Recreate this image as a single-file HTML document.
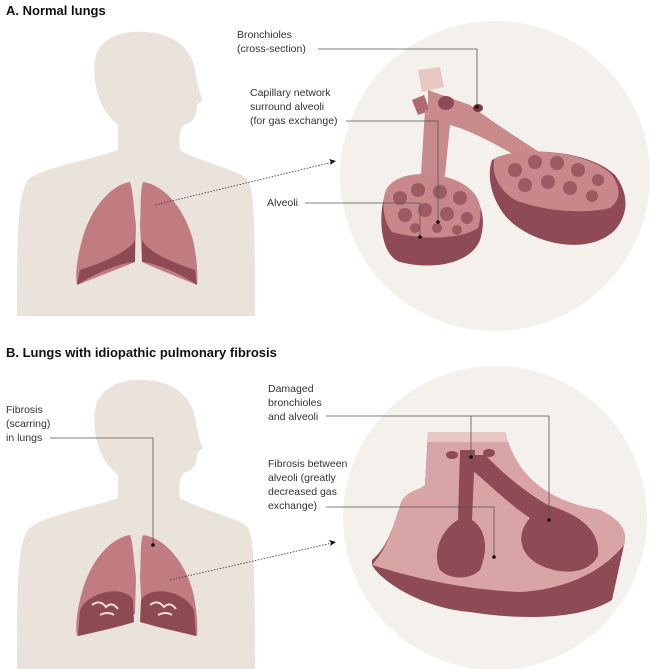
<!DOCTYPE html>
<html><head><style>
html,body{margin:0;padding:0;background:#fff;}
svg{display:block;}
text{font-family:"Liberation Sans",sans-serif;font-size:10.5px;fill:#333;}
.t{font-weight:bold;font-size:13px;fill:#111;}
</style></head><body>
<svg width="660" height="669" viewBox="0 0 660 669" xmlns="http://www.w3.org/2000/svg">
<!-- Section A -->
<text class="t" x="6" y="15">A. Normal lungs</text>
<circle cx="495" cy="176" r="155" fill="#f4f1ed"/>
<path d="M118,125 C98,110 92,80 95,60 C98,40 118,30 145,32 C172,33 192,48 195,70 C197,82 200,95 203,100 L197,105 C197,115 194,122 186,124 C180,126 178,140 180,150 C200,162 240,170 248,180 C254,190 255,220 255,316 L17,316 C17,230 18,195 28,180 C40,168 90,160 118,150 Z" fill="#e9e3db"/>
<path d="M130,182 C110,185 90,210 82,240 C77,258 75,275 77,285 C95,278 120,268 135,262 L136,225 C134,210 133,190 130,182 Z" fill="#c07c80"/>
<path d="M143,182 C165,185 185,210 193,240 C197,258 198,275 197,285 C180,278 155,268 142,262 L140,225 C141,210 140,190 143,182 Z" fill="#c07c80"/>
<path d="M77,285 C100,270 125,262 135,262 L135,240 C130,250 110,260 80,270 Z" fill="#8e4a52"/>
<path d="M197,285 C175,270 150,262 142,262 L142,240 C147,250 165,260 195,270 Z" fill="#8e4a52"/>
<line x1="155" y1="205" x2="333" y2="162" stroke="#333" stroke-width="0.8" stroke-dasharray="1.5,1.5"/>
<path d="M336,161 l-7,-2 l2,3 l-1,3 z" fill="#111"/>
<g>
<path d="M418,70 l22,-3 l4,20 l-22,5 z" fill="#e8c7c3"/>
<path d="M412,100 l12,-5 l6,16 l-12,4 z" fill="#b06a70"/>
<path d="M428,90 L470,105 C490,120 520,140 560,165 L545,175 C510,150 470,130 450,125 L445,175 C440,185 430,190 428,195 Z" fill="#c98a8c"/>
<path d="M425,110 L440,110 L438,190 L420,190 Z" fill="#c98a8c"/>
<path d="M385,195 C390,175 425,170 450,182 C480,190 488,215 480,240 C470,265 430,270 400,262 C380,255 378,215 385,195 Z" fill="#8e4a55"/>
<path d="M386,190 C395,172 430,170 455,180 C478,190 485,205 478,228 C460,240 420,240 392,232 C382,220 382,200 386,190 Z" fill="#c8888b"/>
<path d="M492,160 C520,145 590,150 615,175 C630,195 628,215 615,230 C590,255 540,245 515,225 C495,210 485,180 492,160 Z" fill="#8e4a55"/>
<path d="M495,158 C525,145 590,152 612,175 C622,190 620,200 610,208 C580,215 540,210 515,200 C498,190 490,170 495,158 Z" fill="#c8888b"/>
<g fill="#9e5a63">
<circle cx="400" cy="198" r="7"/><circle cx="418" cy="190" r="7"/><circle cx="440" cy="192" r="7"/><circle cx="460" cy="198" r="7"/>
<circle cx="405" cy="215" r="7"/><circle cx="425" cy="210" r="7"/><circle cx="447" cy="214" r="7"/><circle cx="467" cy="218" r="6"/>
<circle cx="415" cy="228" r="5"/><circle cx="437" cy="228" r="5"/><circle cx="457" cy="230" r="5"/>
<circle cx="515" cy="170" r="7"/><circle cx="535" cy="162" r="7"/><circle cx="557" cy="163" r="7"/><circle cx="578" cy="170" r="7"/><circle cx="598" cy="180" r="6"/>
<circle cx="525" cy="185" r="7"/><circle cx="548" cy="182" r="7"/><circle cx="570" cy="188" r="7"/><circle cx="592" cy="196" r="6"/>
</g>
<ellipse cx="446" cy="103" rx="8" ry="7" fill="#8e4a55"/>
<ellipse cx="478" cy="108" rx="5" ry="4" fill="#7a3a44"/>
</g>
<text x="237" y="38">Bronchioles</text>
<text x="237" y="52">(cross-section)</text>
<path d="M318,49 H477 V107" fill="none" stroke="#555" stroke-width="0.8"/>
<circle cx="477" cy="107" r="1.8" fill="#111"/>
<text x="250" y="96">Capillary network</text>
<text x="250" y="110">surround alveoli</text>
<text x="250" y="124">(for gas exchange)</text>
<path d="M346,121 H438 V222" fill="none" stroke="#555" stroke-width="0.8"/>
<circle cx="438" cy="222" r="1.8" fill="#111"/>
<text x="267" y="206">Alveoli</text>
<path d="M305,203 H420 V237" fill="none" stroke="#555" stroke-width="0.8"/>
<circle cx="420" cy="237" r="1.8" fill="#111"/>

<!-- Section B -->
<text class="t" x="6" y="357">B. Lungs with idiopathic pulmonary fibrosis</text>
<circle cx="495" cy="518" r="152" fill="#f4f1ed"/>
<path d="M118,475 C98,460 92,430 95,410 C98,390 118,378 145,380 C172,381 192,396 195,418 C197,430 200,443 203,448 L197,453 C197,463 194,470 186,472 C180,474 178,488 180,498 C200,510 240,518 248,528 C254,538 255,570 255,669 L17,669 C17,580 18,545 28,530 C40,516 90,508 118,498 Z" fill="#e9e3db"/>
<path d="M130,535 C110,538 90,562 82,592 C77,610 75,627 77,636 C95,630 120,620 135,614 L136,577 C134,562 133,542 130,535 Z" fill="#c07c80"/>
<path d="M143,535 C165,538 185,562 193,592 C197,610 198,627 197,636 C180,630 155,620 142,614 L140,577 C141,562 140,542 143,535 Z" fill="#c07c80"/>
<path d="M80,610 C90,590 125,585 133,600 L134,622 C115,628 95,632 78,636 Z" fill="#8e4a52"/>
<path d="M194,610 C184,590 150,585 141,600 L140,622 C160,628 180,632 196,636 Z" fill="#8e4a52"/>
<path d="M92,605 q8,-6 14,2 q6,-6 12,2 M100,615 q8,-4 14,0 M150,605 q8,-6 14,2 q6,-6 12,2 M158,615 q8,-4 14,0" stroke="#f1dcd8" stroke-width="2" fill="none"/>
<line x1="170" y1="580" x2="332" y2="543" stroke="#333" stroke-width="0.8" stroke-dasharray="1.5,1.5"/>
<path d="M336,542 l-7,-2 l2,3 l-1,3 z" fill="#111"/>
<path d="M428,432 L505,432 C515,470 540,500 600,510 C620,520 628,530 624,545 L612,600 C580,620 520,620 470,612 C420,608 380,580 372,565 L372,560 C390,545 395,520 402,500 C410,490 420,490 425,485 Z" fill="#8e4a55"/>
<path d="M428,432 L505,432 C515,470 540,500 600,510 C620,520 628,530 624,545 C600,575 560,590 520,592 C470,590 420,580 372,565 C390,545 395,520 402,500 C410,490 420,490 425,485 Z" fill="#d9a4a6"/>
<path d="M428,432 L505,432 L508,442 L427,442 Z" fill="#e8c7c3"/>
<path d="M460,450 L475,450 L472,520 C480,525 492,540 480,570 C470,580 450,580 440,570 C432,555 440,530 458,520 Z" fill="#8e4a55"/>
<path d="M472,455 L485,455 C510,480 530,495 548,505 C580,515 600,530 598,555 C590,575 560,575 540,565 C520,555 515,535 530,518 C510,505 490,485 472,470 Z" fill="#8e4a55"/>
<ellipse cx="452" cy="455" rx="6" ry="4" fill="#8e4a55"/>
<ellipse cx="489" cy="453" rx="6" ry="4" fill="#8e4a55"/>
<text x="268" y="392">Damaged</text>
<text x="268" y="406">bronchioles</text>
<text x="268" y="420">and alveoli</text>
<path d="M326,416 H549 V520 M471,416 V457" fill="none" stroke="#555" stroke-width="0.8"/>
<circle cx="549" cy="520" r="1.8" fill="#111"/>
<circle cx="471" cy="457" r="1.8" fill="#111"/>
<text x="268" y="467">Fibrosis between</text>
<text x="268" y="481">alveoli (greatly</text>
<text x="268" y="495">decreased gas</text>
<text x="268" y="509">exchange)</text>
<path d="M326,507 H494 V557" fill="none" stroke="#555" stroke-width="0.8"/>
<circle cx="494" cy="557" r="1.8" fill="#111"/>
<text x="6" y="413">Fibrosis</text>
<text x="6" y="427">(scarring)</text>
<text x="6" y="441">in lungs</text>
<path d="M50,438 H153 V545" fill="none" stroke="#555" stroke-width="0.8"/>
<circle cx="153" cy="545" r="1.8" fill="#111"/>
</svg>
</body></html>
